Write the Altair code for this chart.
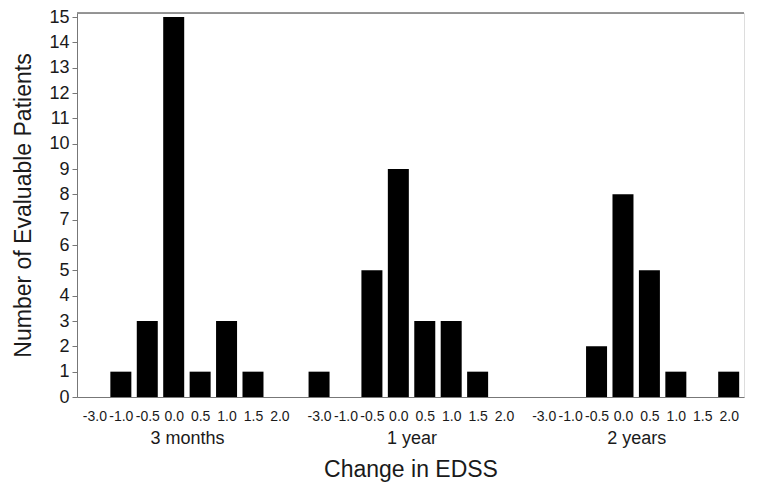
import altair as alt
import pandas as pd

groups = ["3 months", "1 year", "2 years"]
changes = ["-3.0", "-1.0", "-0.5", "0.0", "0.5", "1.0", "1.5", "2.0"]
counts_3m = [0, 1, 3, 15, 1, 3, 1, 0]
counts_1y = [1, 0, 5, 9, 3, 3, 1, 0]
counts_2y = [0, 0, 2, 8, 5, 1, 0, 1]
y_ticks = list(range(0, 16))

GROUP_STEP = 8.5  # slots per group incl. gap

rows = []
for g, (name, counts) in enumerate(zip(groups, [counts_3m, counts_1y, counts_2y])):
    for i, (c, n) in enumerate(zip(changes, counts)):
        rows.append({"group": name, "change": c, "pos": g * GROUP_STEP + i, "count": n})
df = pd.DataFrame(rows)
gdf = pd.DataFrame({"group": groups,
                    "center": [g * GROUP_STEP + (len(changes) - 1) / 2 for g in range(len(groups))]})

FONT = "Liberation Sans, Arial, sans-serif"
NARROW = "Liberation Sans Narrow, Arial Narrow, Liberation Sans, sans-serif"
TXT = "#1a1a1a"
xscale = alt.Scale(domain=[-0.47, 24.39], nice=False, zero=False)
lab_arr = "[" + ",".join(f"'{c}'" for c in changes) + "]"
grp_arr = "[" + ",".join(f"'{g}'" for g in groups) + "]"

bars = alt.Chart(df).mark_bar(color="black", size=21).encode(
    x=alt.X("pos:Q", scale=xscale,
            axis=alt.Axis(values=df["pos"].tolist(), labelExpr=f"{lab_arr}[round(datum.value % {GROUP_STEP})]",
                          title=None, orient="bottom", ticks=False, grid=False,
                          labelFontSize=14, labelColor=TXT, labelFont=NARROW, labelPadding=12,
                          domainColor="#777", labelAngle=0, labelOverlap=False)),
    y=alt.Y("count:Q", scale=alt.Scale(domain=[0, 15.16], nice=False),
            axis=alt.Axis(values=y_ticks, tickCount=16, title="Number of Evaluable Patients", grid=False,
                          labelFontSize=18, labelFont=FONT, labelColor=TXT, tickColor="#777",
                          labelOverlap=False, labelPadding=3, labelFlush=False,
                          domainColor="#777", tickSize=5, titleFont=FONT, titleFontSize=23,
                          titleFontWeight="normal", titleColor=TXT, titlePadding=13)),
)

top_rule = alt.Chart(gdf).mark_rule(color="#888", strokeWidth=1).encode(
    y=alt.value(0), x=alt.value(0), x2=alt.value(667))

grp = alt.Chart(gdf).mark_point(opacity=0).encode(
    x=alt.X("center:Q", scale=xscale,
            axis=alt.Axis(values=gdf["center"].tolist(),
                          labelExpr=f"{grp_arr}[round((datum.value - 3.5) / {GROUP_STEP})]",
                          orient="bottom", offset=30, ticks=False, domain=False, grid=False,
                          labelFontSize=18, labelFont=FONT, labelColor=TXT, labelPadding=2,
                          title="Change in EDSS", titleFont=FONT, titleFontSize=23,
                          titleFontWeight="normal", titleColor=TXT, titlePadding=11)),
)

chart = alt.layer(bars, top_rule, grp).resolve_axis(x="independent").properties(
    width=667, height=384,
    padding={"left": 4, "top": 0, "right": 0, "bottom": 5},
).configure_view(strokeWidth=0).configure(background="white")

chart.save("out.html", embed_options={"renderer": "svg", "actions": False})
